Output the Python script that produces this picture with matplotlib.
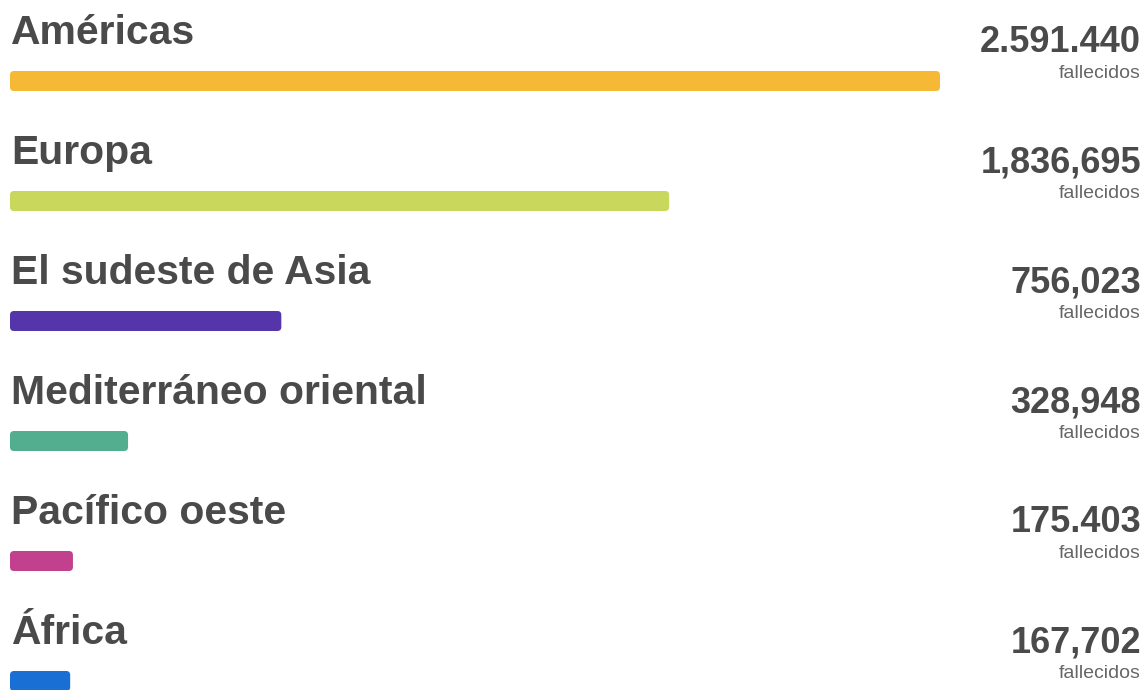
import matplotlib.pyplot as plt
from matplotlib.patches import FancyBboxPatch
from matplotlib.transforms import blended_transform_factory

# -------------------- DATA --------------------
regions = ["Américas", "Europa", "El sudeste de Asia",
           "Mediterráneo oriental", "Pacífico oeste", "África"]
deaths = [2591440, 1836695, 756023, 328948, 175403, 167702]
value_labels = ["2.591.440", "1,836,695", "756,023", "328,948", "175.403", "167,702"]
sub_label = "fallecidos"
colors = ["#F6B935", "#C9D75C", "#5435AA", "#52AE8E", "#C2418F", "#1A6FD4"]
# ----------------------------------------------

W, H, DPI = 1148, 690, 100
ROW = 120.0        # px per row
X0, X1 = 10, 940   # px where 0 and max value sit
TOP = 81           # px centre of first bar

plt.rcParams["font.family"] = ["Liberation Sans", "DejaVu Sans"]
fig = plt.figure(figsize=(W / DPI, H / DPI), dpi=DPI)
ax = fig.add_axes([0, 0, 1, 1])
ax.axis("off")

vmax = max(deaths)
per_px = vmax / (X1 - X0)
ax.set_xlim(-X0 * per_px, (W - X0) * per_px)
ax.set_ylim((H - TOP) / ROW, -TOP / ROW)

bar_h = 20 / ROW
bars = ax.barh(range(len(regions)), deaths, height=bar_h, left=0, color=colors)

# swap plain bars for rounded ones
for b, c in zip(bars, colors):
    x, y = b.get_x(), b.get_y()
    w, h = b.get_width(), b.get_height()
    b.set_visible(False)
    r = 4 * per_px
    patch = FancyBboxPatch((x, y), w, h,
                           boxstyle=f"round,pad=0,rounding_size={r}",
                           mutation_aspect=(1 / ROW) / per_px,
                           fc=c, ec="none")
    ax.add_patch(patch)

tr = blended_transform_factory(fig.transFigure, ax.transData)
txt = "#4a4a4a"
for i, name in enumerate(regions):
    ax.text(1 * per_px, i - 37 / ROW, name, ha="left", va="baseline",
            fontsize=29.4, fontweight="bold", color=txt)
    ax.text(1141 / W, i - 29 / ROW, value_labels[i], transform=tr,
            ha="right", va="baseline", fontsize=26, fontweight="bold", color=txt)
    ax.text(1141 / W, i - 3 / ROW, sub_label, transform=tr,
            ha="right", va="baseline", fontsize=14, color="#666666")

fig.savefig("out.png", dpi=DPI, facecolor="white")
